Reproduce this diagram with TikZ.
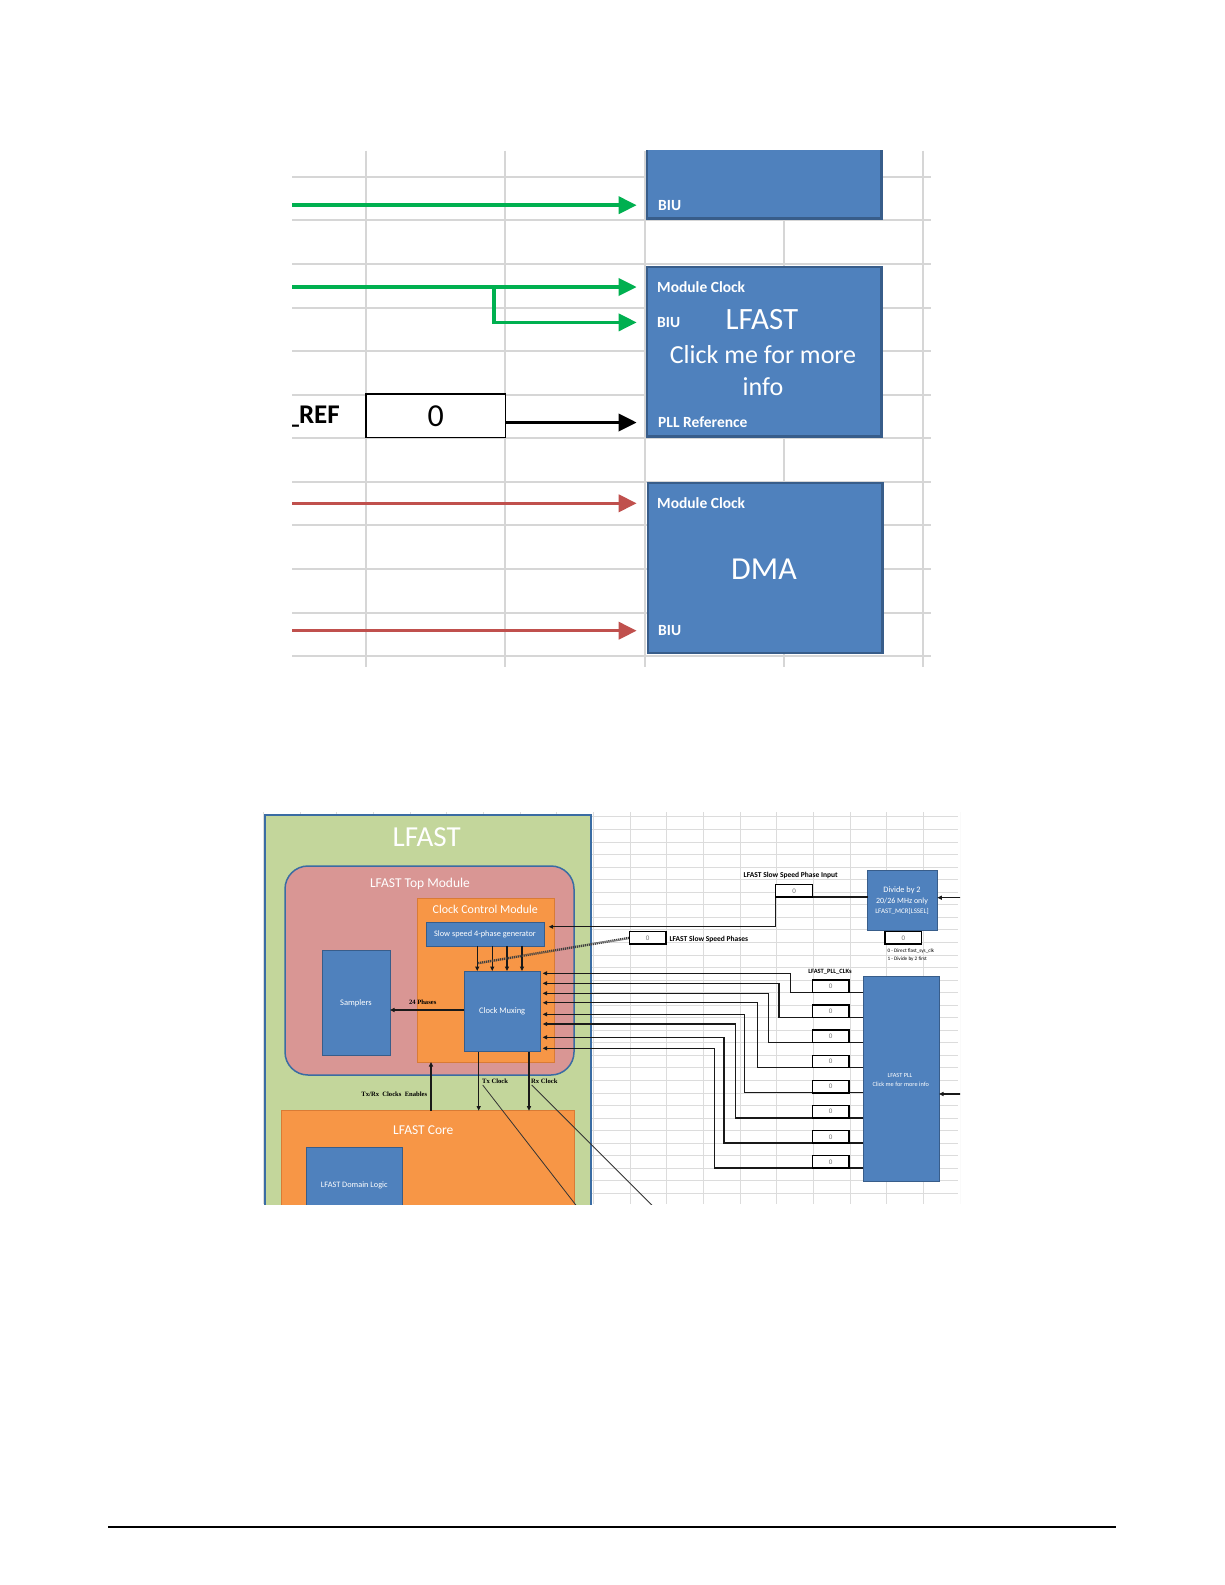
\documentclass[tikz,border=0pt]{standalone}
\usepackage{fontspec}
\setmainfont{Carlito}
\newfontfamily\tnr{Liberation Serif}
\usetikzlibrary{arrows.meta,calc}
\definecolor{boxblue}{HTML}{4F81BD}
\definecolor{boxedge}{HTML}{385D8A}
\definecolor{arrgreen}{HTML}{00B050}
\definecolor{arrred}{HTML}{C0504D}
\definecolor{gridtop}{HTML}{D6D6D6}
\definecolor{gridbot}{HTML}{DCDCDC}
\definecolor{lfgreen}{HTML}{C3D69B}
\definecolor{rosefill}{HTML}{D99694}
\definecolor{orngfill}{HTML}{F79646}
\definecolor{orngedge}{HTML}{D97B35}
\definecolor{ringblue}{HTML}{3A6CA3}
\newcommand{\pxfont}[1]{\fontsize{#1}{#1}\selectfont}
\tikzset{
 gridT/.style={draw=gridtop, line width=2pt},
 gridB/.style={draw=gridbot, line width=0.8pt},
 topbox/.style={fill=boxblue, draw=boxedge, line width=2.6pt, anchor=north west, inner sep=0pt, outer sep=0pt},
 wsmall/.style={text=white, anchor=west, inner sep=0pt, font=\pxfont{15.5}\bfseries},
 wbig/.style={text=white, inner sep=0pt},
 thickarrow/.style={line width=3.5pt, -{Triangle[length=18pt,width=17pt]}},
 bbox/.style={fill=boxblue, draw=boxedge, line width=1pt, anchor=north west, inner sep=0pt, outer sep=0pt},
 zbox/.style={fill=white, draw=black, line width=1.5pt, anchor=north west, inner sep=0pt, outer sep=0pt, minimum width=36.7pt, minimum height=12.4pt, text=black!55, font=\pxfont{7}},
 conn/.style={draw=black!90, line width=1.3pt, -{Triangle[length=4.5pt,width=4pt]}},
 lbl/.style={inner sep=0pt, text=black, font=\pxfont{7.5}\bfseries},
 slbl/.style={inner sep=0pt, text=black, font=\pxfont{6.6}\tnr\bfseries},
 wtext/.style={text=white, inner sep=0pt},
}
\begin{document}
\begin{tikzpicture}[x=1pt,y=-1pt]
\useasboundingbox (0,0) rectangle (1225,1585);
\fill[white] (0,0) rectangle (1225,1585);

% ================= TOP SECTION =================
\begin{scope}
\clip (292,150.6) rectangle (935,667);
\foreach \x in {365.9,505.4,644.8,784.3,922.8} \draw[gridT] (\x,150.6) -- (\x,667);
\foreach \k in {0,...,11} \draw[gridT] (292,176.9+43.56*\k) -- (931,176.9+43.56*\k);

% boxes
\node[topbox, minimum width=234.5pt, minimum height=98.7pt] (biu) at (646.8,119.6) {};
\node[topbox, minimum width=234.5pt, minimum height=169.8pt] (lfast) at (646.8,266.8) {};
\node[topbox, minimum width=234.4pt, minimum height=169.8pt] (dma) at (647.9,483.1) {};

% REF
\node[anchor=east, inner sep=0pt, font=\pxfont{27}\bfseries] (reflbl) at (340,416.4) {\_REF};
\node[draw=black, line width=1.5pt, fill=white, anchor=north west, minimum width=139.5pt, minimum height=43.4pt, inner sep=0pt, outer sep=0pt, font=\pxfont{32}] (refbox) at (365.9,394.2) {0};

% arrow coordinates
\coordinate (g1s) at (285,205.2);  \coordinate (g1e) at (636.7,205.2);
\coordinate (g2s) at (285,287);    \coordinate (g2e) at (636.7,287);
\coordinate (gbr) at (494.2,287);  \coordinate (g3e) at (636.7,322.4);
\coordinate (refend) at (636.7,422.5);
\coordinate (r1s) at (285,503.3);  \coordinate (r1e) at (636.7,503.3);
\coordinate (r2s) at (285,630.7);  \coordinate (r2e) at (636.7,630.7);

\draw[thickarrow, draw=arrgreen] (g1s) -- (g1e);
\draw[thickarrow, draw=arrgreen] (g2s) -- (g2e);
\draw[thickarrow, draw=arrgreen] (gbr) |- (g3e);
\draw[thickarrow, draw=black] (refbox.east |- refend) -- (refend);
\draw[thickarrow, draw=arrred] (r1s) -- (r1e);
\draw[thickarrow, draw=arrred] (r2s) -- (r2e);

% texts in boxes
\node[wsmall] (biu-t) at (658,205.2) {BIU};
\node[wsmall] (lf-mc) at (657,287) {Module Clock};
\node[wsmall] (lf-biu) at (657,322.4) {BIU};
\node[wbig, font=\pxfont{31}] (lf-name) at (762,319.4) {LFAST};
\node[wbig, font=\pxfont{26}] (lf-click) at (763,354.8) {Click me for more};
\node[wbig, font=\pxfont{26}] (lf-info) at (763,387) {info};
\node[wsmall] (lf-pll) at (658,422.5) {PLL Reference};
\node[wsmall] (dma-mc) at (657,503.3) {Module Clock};
\node[wbig, font=\pxfont{32}] (dma-name) at (764,569) {DMA};
\node[wsmall] (dma-biu) at (658,630.7) {BIU};
\end{scope}

% ================= BOTTOM SECTION =================
\begin{scope}
\clip (263,805) rectangle (960,1204);
\foreach \k in {0,...,19} \draw[gridB] (263.3+36.67*\k,812) -- (263.3+36.67*\k,1204);
\foreach \j in {-13,...,18} \draw[gridB] (263,980+12.55*\j) -- (958,980+12.55*\j);

\node[anchor=north west, fill=lfgreen, draw=ringblue, line width=1.2pt, minimum width=326pt, minimum height=420pt, inner sep=0pt, outer sep=0pt] (lfastbig) at (265,815) {};
\node[anchor=north west, rounded corners=23pt, fill=rosefill, draw=ringblue, line width=1.5pt, minimum width=289pt, minimum height=209pt, inner sep=0pt, outer sep=0pt] (topmod) at (285,866) {};
\node[anchor=north west, fill=orngfill, draw=orngedge, line width=1pt, minimum width=137pt, minimum height=163.3pt, inner sep=0pt, outer sep=0pt] (ccm) at (417.3,898.7) {};
\node[bbox, minimum width=118pt, minimum height=23.3pt, text=white, font=\pxfont{8.3}] (gen) at (426,922.7) {Slow speed 4-phase generator};
\node[bbox, minimum width=68pt, minimum height=105pt, text=white, font=\pxfont{8.5}] (samplers) at (322,950.7) {Samplers};
\node[bbox, minimum width=75.7pt, minimum height=80.7pt, text=white, font=\pxfont{8.5}] (mux) at (464.3,971) {Clock Muxing};
\node[anchor=north west, fill=orngfill, draw=orngedge, line width=1pt, minimum width=292.3pt, minimum height=130pt, inner sep=0pt, outer sep=0pt] (core) at (281.7,1110.7) {};
\node[bbox, minimum width=96.7pt, minimum height=90pt] (domain) at (306,1147.3) {};

\node[wtext, font=\pxfont{29}] (t-lfast) at (426.7,837.3) {LFAST};
\node[wtext, font=\pxfont{13.5}] (t-top) at (420,884) {LFAST Top Module};
\node[wtext, font=\pxfont{12}] (t-ccm) at (485.3,909) {Clock Control Module};
\node[wtext, font=\pxfont{13.5}] (t-core) at (423.3,1130) {LFAST Core};
\node[wtext, font=\pxfont{8.3}] (t-dom) at (354.3,1185) {LFAST Domain Logic};

% divider and PLL
\node[bbox, minimum width=69.6pt, minimum height=60pt] (div) at (867.7,870) {};
\node[wtext, font=\pxfont{8.3}] (div-t1) at (902,890.5) {Divide by 2};
\node[wtext, font=\pxfont{8}] (div-t2) at (902,901.5) {20/26 MHz only};
\node[wtext, font=\pxfont{7}] (div-t3) at (902,911.5) {LFAST\_MCR[LSSEL]};
\node[bbox, minimum width=75.7pt, minimum height=205pt] (pll) at (863.3,976.7) {};
\node[wtext, font=\pxfont{6.3}] (pll-t1) at (900,1075.7) {LFAST PLL};
\node[wtext, font=\pxfont{6.3}] (pll-t2) at (900.7,1084.3) {Click me for more info};

% coordinates
\foreach \k/\x in {1/477.3,2/492.3,3/507,4/522} \coordinate (mt\k) at (\x,971);
\coordinate (ph) at (0,1010);
\coordinate (txe) at (478.7,1110.7);
\coordinate (rxe) at (529,1110.7);
\coordinate (en) at (431,0);
\coordinate (genin) at (548.7,926.7);
\coordinate (divsrc) at (962,897.7);
\coordinate (pllsrc) at (962,1094);
\coordinate (hatchend) at (477.3,963.3);
\coordinate (d1s) at (482.7,1085); \coordinate (d1e) at (587.5,1220);
\coordinate (d2s) at (531.7,1085); \coordinate (d2e) at (666.7,1220);

% small value boxes
\node[zbox] (pin) at (775.7,884.7) {0};
\node[zbox] (sp) at (629.3,931.7) {0};
\node[zbox] (dsel) at (885,931.7) {0};
\foreach \i in {0,...,7} \node[zbox] (clk\i) at (812.3,980+25.1*\i) {0};

% connectors
\foreach \k in {1,...,4} \draw[conn] (gen.south -| mt\k) -- (mt\k);
\draw[conn] (mux.west |- ph) -- (samplers.east |- ph);
\draw[conn] (mux.south -| txe) -- (txe);
\draw[conn] (mux.south -| rxe) -- (rxe);
\draw[conn] (core.north -| en) -- (ccm.south -| en);
\draw[conn] (div.west |- pin.south) -- (pin.south west) |- (genin);
\draw[conn] (divsrc) -- (div.east |- divsrc);
\draw[conn] (pllsrc) -- (pll.east |- pllsrc);
\foreach \i/\xc/\yr in {0/790.7/973.3,1/779/983.3,2/768.3/993.3,3/757.3/1002.7,4/744.3/1014.3,5/735.3/1024,6/724/1037.3,7/714.7/1048.3}{
  \coordinate (mxin\i) at (542.7,\yr);
  \draw[conn] (pll.west |- clk\i.south) -| (\xc,\yr) -- (mxin\i);
}
\draw[line width=2.4pt, draw=black!75, dash pattern=on 1.2pt off 0.8pt] (sp.west) -- (hatchend);
\draw[draw=black!80, line width=0.8pt] (d1s) -- (d1e);
\draw[draw=black!80, line width=0.8pt] (d2s) -- (d2e);

% redraw boxes on top of lines
\node[zbox] at (pin.north west) {0};
\node[zbox] at (sp.north west) {0};
\node[zbox] at (dsel.north west) {0};
\foreach \i in {0,...,7} \node[zbox] at (clk\i.north west) {0};

% labels
\node[slbl] (l-24) at (422.7,1002.7) {24 Phases};
\node[slbl] (l-en) at (394.3,1094) {Tx/Rx~ Clocks~ Enables};
\node[slbl, anchor=west] (l-tx) at (482,1081) {Tx Clock};
\node[slbl, anchor=west] (l-rx) at (531,1081) {Rx Clock};
\node[lbl] (l-pin) at (790.7,875) {LFAST Slow Speed Phase Input};
\node[lbl, anchor=west] (l-sp) at (669.3,939.3) {LFAST Slow Speed Phases};
\node[lbl, font=\pxfont{6.5}\bfseries] (l-clk) at (830,972) {LFAST\_PLL\_CLKs};
\node[inner sep=0pt, anchor=west, font=\pxfont{5.2}] (l-d0) at (887.3,950.7) {0 - Direct flast\_sys\_clk};
\node[inner sep=0pt, anchor=west, font=\pxfont{5.2}] (l-d1) at (887.3,958.7) {1 - Divide by 2 first};
\end{scope}

% footer rule
\draw[line width=1.3pt] (108,1527) -- (1116,1527);
\end{tikzpicture}
\end{document}
